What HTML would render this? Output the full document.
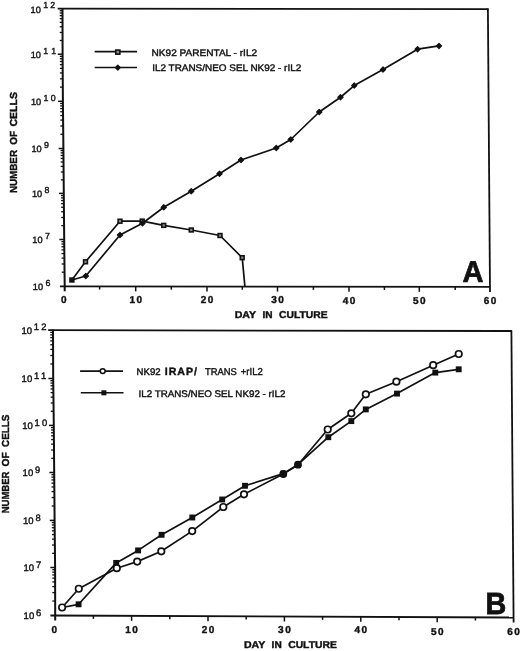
<!DOCTYPE html>
<html><head><meta charset="utf-8"><style>
html,body{margin:0;padding:0;background:#fff;}
svg{display:block;will-change:transform;text-rendering:geometricPrecision;}
text{font-family:"Liberation Sans", sans-serif;fill:#111;stroke:#111;stroke-width:0.4px;}
</style></head><body>
<svg width="520" height="651" viewBox="0 0 520 651">
<rect width="520" height="651" fill="#fff"/>
<line x1="57.70" y1="8.60" x2="488.40" y2="9.10" stroke="#111" stroke-width="1.8"/>
<polyline points="62.50,8.00 62.60,54.20 62.90,101.30 63.40,148.50 63.80,193.40 64.20,239.50 64.70,286.30 64.70,291.30" fill="none" stroke="#111" stroke-width="2.0" stroke-linejoin="round"/>
<line x1="487.90" y1="8.50" x2="490.00" y2="291.90" stroke="#111" stroke-width="1.8"/>
<line x1="59.90" y1="286.30" x2="490.00" y2="286.90" stroke="#111" stroke-width="1.8"/>
<line x1="61.75" y1="272.21" x2="64.55" y2="272.21" stroke="#111" stroke-width="1.3"/>
<line x1="61.66" y1="263.97" x2="64.46" y2="263.97" stroke="#111" stroke-width="1.3"/>
<line x1="61.60" y1="258.12" x2="64.40" y2="258.12" stroke="#111" stroke-width="1.3"/>
<line x1="61.55" y1="253.59" x2="64.35" y2="253.59" stroke="#111" stroke-width="1.3"/>
<line x1="61.51" y1="249.88" x2="64.31" y2="249.88" stroke="#111" stroke-width="1.3"/>
<line x1="61.48" y1="246.75" x2="64.28" y2="246.75" stroke="#111" stroke-width="1.3"/>
<line x1="61.45" y1="244.04" x2="64.25" y2="244.04" stroke="#111" stroke-width="1.3"/>
<line x1="61.42" y1="241.64" x2="64.22" y2="241.64" stroke="#111" stroke-width="1.3"/>
<line x1="61.28" y1="225.62" x2="64.08" y2="225.62" stroke="#111" stroke-width="1.3"/>
<line x1="61.21" y1="217.50" x2="64.01" y2="217.50" stroke="#111" stroke-width="1.3"/>
<line x1="61.16" y1="211.75" x2="63.96" y2="211.75" stroke="#111" stroke-width="1.3"/>
<line x1="61.12" y1="207.28" x2="63.92" y2="207.28" stroke="#111" stroke-width="1.3"/>
<line x1="61.09" y1="203.63" x2="63.89" y2="203.63" stroke="#111" stroke-width="1.3"/>
<line x1="61.06" y1="200.54" x2="63.86" y2="200.54" stroke="#111" stroke-width="1.3"/>
<line x1="61.04" y1="197.87" x2="63.84" y2="197.87" stroke="#111" stroke-width="1.3"/>
<line x1="61.02" y1="195.51" x2="63.82" y2="195.51" stroke="#111" stroke-width="1.3"/>
<line x1="59.40" y1="239.50" x2="64.20" y2="239.50" stroke="#111" stroke-width="1.5"/>
<line x1="60.88" y1="179.88" x2="63.68" y2="179.88" stroke="#111" stroke-width="1.3"/>
<line x1="60.81" y1="171.98" x2="63.61" y2="171.98" stroke="#111" stroke-width="1.3"/>
<line x1="60.76" y1="166.37" x2="63.56" y2="166.37" stroke="#111" stroke-width="1.3"/>
<line x1="60.72" y1="162.02" x2="63.52" y2="162.02" stroke="#111" stroke-width="1.3"/>
<line x1="60.69" y1="158.46" x2="63.49" y2="158.46" stroke="#111" stroke-width="1.3"/>
<line x1="60.66" y1="155.46" x2="63.46" y2="155.46" stroke="#111" stroke-width="1.3"/>
<line x1="60.64" y1="152.85" x2="63.44" y2="152.85" stroke="#111" stroke-width="1.3"/>
<line x1="60.62" y1="150.55" x2="63.42" y2="150.55" stroke="#111" stroke-width="1.3"/>
<line x1="59.00" y1="193.40" x2="63.80" y2="193.40" stroke="#111" stroke-width="1.5"/>
<line x1="60.45" y1="134.29" x2="63.25" y2="134.29" stroke="#111" stroke-width="1.3"/>
<line x1="60.36" y1="125.98" x2="63.16" y2="125.98" stroke="#111" stroke-width="1.3"/>
<line x1="60.30" y1="120.08" x2="63.10" y2="120.08" stroke="#111" stroke-width="1.3"/>
<line x1="60.25" y1="115.51" x2="63.05" y2="115.51" stroke="#111" stroke-width="1.3"/>
<line x1="60.21" y1="111.77" x2="63.01" y2="111.77" stroke="#111" stroke-width="1.3"/>
<line x1="60.18" y1="108.61" x2="62.98" y2="108.61" stroke="#111" stroke-width="1.3"/>
<line x1="60.15" y1="105.87" x2="62.95" y2="105.87" stroke="#111" stroke-width="1.3"/>
<line x1="60.12" y1="103.46" x2="62.92" y2="103.46" stroke="#111" stroke-width="1.3"/>
<line x1="58.60" y1="148.50" x2="63.40" y2="148.50" stroke="#111" stroke-width="1.5"/>
<line x1="60.01" y1="87.12" x2="62.81" y2="87.12" stroke="#111" stroke-width="1.3"/>
<line x1="59.96" y1="78.83" x2="62.76" y2="78.83" stroke="#111" stroke-width="1.3"/>
<line x1="59.92" y1="72.94" x2="62.72" y2="72.94" stroke="#111" stroke-width="1.3"/>
<line x1="59.89" y1="68.38" x2="62.69" y2="68.38" stroke="#111" stroke-width="1.3"/>
<line x1="59.87" y1="64.65" x2="62.67" y2="64.65" stroke="#111" stroke-width="1.3"/>
<line x1="59.85" y1="61.50" x2="62.65" y2="61.50" stroke="#111" stroke-width="1.3"/>
<line x1="59.83" y1="58.76" x2="62.63" y2="58.76" stroke="#111" stroke-width="1.3"/>
<line x1="59.81" y1="56.36" x2="62.61" y2="56.36" stroke="#111" stroke-width="1.3"/>
<line x1="58.10" y1="101.30" x2="62.90" y2="101.30" stroke="#111" stroke-width="1.5"/>
<line x1="59.77" y1="40.47" x2="62.57" y2="40.47" stroke="#111" stroke-width="1.3"/>
<line x1="59.75" y1="32.44" x2="62.55" y2="32.44" stroke="#111" stroke-width="1.3"/>
<line x1="59.74" y1="26.75" x2="62.54" y2="26.75" stroke="#111" stroke-width="1.3"/>
<line x1="59.73" y1="22.33" x2="62.53" y2="22.33" stroke="#111" stroke-width="1.3"/>
<line x1="59.72" y1="18.72" x2="62.52" y2="18.72" stroke="#111" stroke-width="1.3"/>
<line x1="59.72" y1="15.66" x2="62.52" y2="15.66" stroke="#111" stroke-width="1.3"/>
<line x1="59.71" y1="13.02" x2="62.51" y2="13.02" stroke="#111" stroke-width="1.3"/>
<line x1="59.70" y1="10.69" x2="62.50" y2="10.69" stroke="#111" stroke-width="1.3"/>
<line x1="57.80" y1="54.20" x2="62.60" y2="54.20" stroke="#111" stroke-width="1.5"/>
<line x1="99.60" y1="286.35" x2="99.60" y2="289.55" stroke="#111" stroke-width="1.5"/>
<line x1="135.70" y1="286.40" x2="135.70" y2="291.40" stroke="#111" stroke-width="1.5"/>
<line x1="171.30" y1="286.45" x2="171.30" y2="289.65" stroke="#111" stroke-width="1.5"/>
<line x1="207.00" y1="286.50" x2="207.00" y2="291.50" stroke="#111" stroke-width="1.5"/>
<line x1="242.30" y1="286.55" x2="242.30" y2="289.75" stroke="#111" stroke-width="1.5"/>
<line x1="277.50" y1="286.60" x2="277.50" y2="291.60" stroke="#111" stroke-width="1.5"/>
<line x1="313.40" y1="286.65" x2="313.40" y2="289.85" stroke="#111" stroke-width="1.5"/>
<line x1="349.00" y1="286.70" x2="349.00" y2="291.70" stroke="#111" stroke-width="1.5"/>
<line x1="384.40" y1="286.75" x2="384.40" y2="289.95" stroke="#111" stroke-width="1.5"/>
<line x1="419.30" y1="286.80" x2="419.30" y2="291.80" stroke="#111" stroke-width="1.5"/>
<line x1="455.20" y1="286.85" x2="455.20" y2="290.05" stroke="#111" stroke-width="1.5"/>
<text x="32.80" y="290.20" font-size="9.2" font-weight="400" text-anchor="start">10</text>
<text x="45.40" y="285.90" font-size="8.8" font-weight="400" text-anchor="start" letter-spacing="2.2">6</text>
<text x="32.30" y="243.40" font-size="9.2" font-weight="400" text-anchor="start">10</text>
<text x="44.90" y="239.10" font-size="8.8" font-weight="400" text-anchor="start" letter-spacing="2.2">7</text>
<text x="31.90" y="197.30" font-size="9.2" font-weight="400" text-anchor="start">10</text>
<text x="44.50" y="193.00" font-size="8.8" font-weight="400" text-anchor="start" letter-spacing="2.2">8</text>
<text x="31.50" y="152.40" font-size="9.2" font-weight="400" text-anchor="start">10</text>
<text x="44.10" y="148.10" font-size="8.8" font-weight="400" text-anchor="start" letter-spacing="2.2">9</text>
<text x="31.00" y="105.20" font-size="9.2" font-weight="400" text-anchor="start">10</text>
<text x="43.60" y="100.90" font-size="8.8" font-weight="400" text-anchor="start" letter-spacing="2.2">10</text>
<text x="30.70" y="58.10" font-size="9.2" font-weight="400" text-anchor="start">10</text>
<text x="43.30" y="53.80" font-size="8.8" font-weight="400" text-anchor="start" letter-spacing="3.6">11</text>
<text x="30.60" y="12.50" font-size="9.2" font-weight="400" text-anchor="start">10</text>
<text x="43.20" y="8.20" font-size="8.8" font-weight="400" text-anchor="start" letter-spacing="2.2">12</text>
<text x="64.50" y="302.90" font-size="10" font-weight="700" text-anchor="middle" letter-spacing="1.5">0</text>
<text x="136.45" y="303.10" font-size="10" font-weight="700" text-anchor="middle" letter-spacing="1.5">10</text>
<text x="207.75" y="302.90" font-size="10" font-weight="700" text-anchor="middle" letter-spacing="1.5">20</text>
<text x="278.25" y="303.10" font-size="10" font-weight="700" text-anchor="middle" letter-spacing="1.5">30</text>
<text x="349.75" y="303.50" font-size="10" font-weight="700" text-anchor="middle" letter-spacing="1.5">40</text>
<text x="420.05" y="304.00" font-size="10" font-weight="700" text-anchor="middle" letter-spacing="1.5">50</text>
<text x="490.75" y="304.10" font-size="10" font-weight="700" text-anchor="middle" letter-spacing="1.5">60</text>
<text x="234.70" y="317.80" font-size="10" font-weight="700" text-anchor="start" textLength="21.400000000000002" lengthAdjust="spacingAndGlyphs">DAY</text>
<text x="262.40" y="317.80" font-size="10" font-weight="700" text-anchor="start" textLength="10.1" lengthAdjust="spacingAndGlyphs">IN</text>
<text x="279.00" y="317.80" font-size="10" font-weight="700" text-anchor="start" textLength="48.6" lengthAdjust="spacingAndGlyphs">CULTURE</text>
<text transform="translate(17.10,193.10) rotate(-90)" font-size="10.2" font-weight="700" textLength="43.10" lengthAdjust="spacingAndGlyphs">NUMBER</text>
<text transform="translate(17.10,144.70) rotate(-90)" font-size="10.2" font-weight="700" textLength="13.80" lengthAdjust="spacingAndGlyphs">OF</text>
<text transform="translate(17.10,126.60) rotate(-90)" font-size="10.2" font-weight="700" textLength="34.60" lengthAdjust="spacingAndGlyphs">CELLS</text>
<text x="462.50" y="282.00" font-size="30" font-weight="700" text-anchor="start" textLength="21.0" lengthAdjust="spacingAndGlyphs" style="stroke-width:0.7px">A</text>
<line x1="94.70" y1="51.60" x2="137.00" y2="51.60" stroke="#111" stroke-width="1.6"/>
<line x1="94.70" y1="67.50" x2="137.00" y2="67.50" stroke="#111" stroke-width="1.6"/>
<text x="151.60" y="55.60" font-size="9.5" font-weight="400" text-anchor="start" textLength="105.5" lengthAdjust="spacingAndGlyphs">NK92 PARENTAL - rIL2</text>
<text x="152.20" y="71.10" font-size="9.5" font-weight="400" text-anchor="start" textLength="149" lengthAdjust="spacingAndGlyphs">IL2 TRANS/NEO SEL NK92 - rIL2</text>
<polyline points="71.90,280.00 85.50,261.80 120.00,221.20 142.20,221.10 163.75,225.40 191.25,230.00 220.00,235.50 242.20,257.70 244.90,286.40" fill="none" stroke="#111" stroke-width="1.7" stroke-linejoin="round"/>
<polyline points="71.90,280.00 85.80,276.00 120.00,235.00 142.50,223.30 163.75,207.30 191.25,191.25 219.50,173.75 241.00,160.00 276.25,148.00 290.75,139.50 319.25,112.00 340.50,97.25 354.25,85.60 383.00,69.60 417.60,49.20 439.00,45.90" fill="none" stroke="#111" stroke-width="1.7" stroke-linejoin="round"/>
<rect x="83.60" y="259.90" width="3.80" height="3.80" fill="#8a8a8a" stroke="#111" stroke-width="1.6"/>
<rect x="118.10" y="219.30" width="3.80" height="3.80" fill="#8a8a8a" stroke="#111" stroke-width="1.6"/>
<rect x="140.30" y="219.20" width="3.80" height="3.80" fill="#8a8a8a" stroke="#111" stroke-width="1.6"/>
<rect x="161.85" y="223.50" width="3.80" height="3.80" fill="#8a8a8a" stroke="#111" stroke-width="1.6"/>
<rect x="189.35" y="228.10" width="3.80" height="3.80" fill="#8a8a8a" stroke="#111" stroke-width="1.6"/>
<rect x="218.10" y="233.60" width="3.80" height="3.80" fill="#8a8a8a" stroke="#111" stroke-width="1.6"/>
<rect x="240.30" y="255.80" width="3.80" height="3.80" fill="#8a8a8a" stroke="#111" stroke-width="1.6"/>
<polygon points="85.80,273.40 88.40,276.00 85.80,278.60 83.20,276.00" fill="#111" stroke="#111" stroke-width="1.2" stroke-linejoin="round"/>
<polygon points="120.00,232.40 122.60,235.00 120.00,237.60 117.40,235.00" fill="#111" stroke="#111" stroke-width="1.2" stroke-linejoin="round"/>
<polygon points="142.50,220.70 145.10,223.30 142.50,225.90 139.90,223.30" fill="#111" stroke="#111" stroke-width="1.2" stroke-linejoin="round"/>
<polygon points="163.75,204.70 166.35,207.30 163.75,209.90 161.15,207.30" fill="#111" stroke="#111" stroke-width="1.2" stroke-linejoin="round"/>
<polygon points="191.25,188.65 193.85,191.25 191.25,193.85 188.65,191.25" fill="#111" stroke="#111" stroke-width="1.2" stroke-linejoin="round"/>
<polygon points="219.50,171.15 222.10,173.75 219.50,176.35 216.90,173.75" fill="#111" stroke="#111" stroke-width="1.2" stroke-linejoin="round"/>
<polygon points="241.00,157.40 243.60,160.00 241.00,162.60 238.40,160.00" fill="#111" stroke="#111" stroke-width="1.2" stroke-linejoin="round"/>
<polygon points="276.25,145.40 278.85,148.00 276.25,150.60 273.65,148.00" fill="#111" stroke="#111" stroke-width="1.2" stroke-linejoin="round"/>
<polygon points="290.75,136.90 293.35,139.50 290.75,142.10 288.15,139.50" fill="#111" stroke="#111" stroke-width="1.2" stroke-linejoin="round"/>
<polygon points="319.25,109.40 321.85,112.00 319.25,114.60 316.65,112.00" fill="#111" stroke="#111" stroke-width="1.2" stroke-linejoin="round"/>
<polygon points="340.50,94.65 343.10,97.25 340.50,99.85 337.90,97.25" fill="#111" stroke="#111" stroke-width="1.2" stroke-linejoin="round"/>
<polygon points="354.25,83.00 356.85,85.60 354.25,88.20 351.65,85.60" fill="#111" stroke="#111" stroke-width="1.2" stroke-linejoin="round"/>
<polygon points="383.00,67.00 385.60,69.60 383.00,72.20 380.40,69.60" fill="#111" stroke="#111" stroke-width="1.2" stroke-linejoin="round"/>
<polygon points="417.60,46.60 420.20,49.20 417.60,51.80 415.00,49.20" fill="#111" stroke="#111" stroke-width="1.2" stroke-linejoin="round"/>
<polygon points="439.00,43.30 441.60,45.90 439.00,48.50 436.40,45.90" fill="#111" stroke="#111" stroke-width="1.2" stroke-linejoin="round"/>
<rect x="69.20" y="277.30" width="5.40" height="5.40" fill="#111"/>
<rect x="115.75" y="50.05" width="4.10" height="4.10" fill="#8a8a8a" stroke="#111" stroke-width="1.6"/>
<polygon points="117.80,65.10 120.30,67.60 117.80,70.10 115.30,67.60" fill="#111" stroke="#111" stroke-width="1.2" stroke-linejoin="round"/>
<line x1="48.20" y1="330.20" x2="511.90" y2="331.00" stroke="#111" stroke-width="1.8"/>
<polyline points="53.00,329.60 53.20,378.50 53.80,425.40 54.20,472.50 54.60,520.40 55.10,567.50 55.20,615.50 55.20,620.50" fill="none" stroke="#111" stroke-width="2.0" stroke-linejoin="round"/>
<line x1="511.40" y1="330.40" x2="513.60" y2="622.50" stroke="#111" stroke-width="1.8"/>
<line x1="50.40" y1="615.50" x2="513.60" y2="617.50" stroke="#111" stroke-width="1.8"/>
<line x1="52.37" y1="601.05" x2="55.17" y2="601.05" stroke="#111" stroke-width="1.3"/>
<line x1="52.35" y1="592.60" x2="55.15" y2="592.60" stroke="#111" stroke-width="1.3"/>
<line x1="52.34" y1="586.60" x2="55.14" y2="586.60" stroke="#111" stroke-width="1.3"/>
<line x1="52.33" y1="581.95" x2="55.13" y2="581.95" stroke="#111" stroke-width="1.3"/>
<line x1="52.32" y1="578.15" x2="55.12" y2="578.15" stroke="#111" stroke-width="1.3"/>
<line x1="52.32" y1="574.94" x2="55.12" y2="574.94" stroke="#111" stroke-width="1.3"/>
<line x1="52.31" y1="572.15" x2="55.11" y2="572.15" stroke="#111" stroke-width="1.3"/>
<line x1="52.30" y1="569.70" x2="55.10" y2="569.70" stroke="#111" stroke-width="1.3"/>
<line x1="52.15" y1="553.32" x2="54.95" y2="553.32" stroke="#111" stroke-width="1.3"/>
<line x1="52.06" y1="545.03" x2="54.86" y2="545.03" stroke="#111" stroke-width="1.3"/>
<line x1="52.00" y1="539.14" x2="54.80" y2="539.14" stroke="#111" stroke-width="1.3"/>
<line x1="51.95" y1="534.58" x2="54.75" y2="534.58" stroke="#111" stroke-width="1.3"/>
<line x1="51.91" y1="530.85" x2="54.71" y2="530.85" stroke="#111" stroke-width="1.3"/>
<line x1="51.88" y1="527.70" x2="54.68" y2="527.70" stroke="#111" stroke-width="1.3"/>
<line x1="51.85" y1="524.96" x2="54.65" y2="524.96" stroke="#111" stroke-width="1.3"/>
<line x1="51.82" y1="522.56" x2="54.62" y2="522.56" stroke="#111" stroke-width="1.3"/>
<line x1="50.30" y1="567.50" x2="55.10" y2="567.50" stroke="#111" stroke-width="1.5"/>
<line x1="51.68" y1="505.98" x2="54.48" y2="505.98" stroke="#111" stroke-width="1.3"/>
<line x1="51.61" y1="497.55" x2="54.41" y2="497.55" stroke="#111" stroke-width="1.3"/>
<line x1="51.56" y1="491.56" x2="54.36" y2="491.56" stroke="#111" stroke-width="1.3"/>
<line x1="51.52" y1="486.92" x2="54.32" y2="486.92" stroke="#111" stroke-width="1.3"/>
<line x1="51.49" y1="483.13" x2="54.29" y2="483.13" stroke="#111" stroke-width="1.3"/>
<line x1="51.46" y1="479.92" x2="54.26" y2="479.92" stroke="#111" stroke-width="1.3"/>
<line x1="51.44" y1="477.14" x2="54.24" y2="477.14" stroke="#111" stroke-width="1.3"/>
<line x1="51.42" y1="474.69" x2="54.22" y2="474.69" stroke="#111" stroke-width="1.3"/>
<line x1="49.80" y1="520.40" x2="54.60" y2="520.40" stroke="#111" stroke-width="1.5"/>
<line x1="51.28" y1="458.32" x2="54.08" y2="458.32" stroke="#111" stroke-width="1.3"/>
<line x1="51.21" y1="450.03" x2="54.01" y2="450.03" stroke="#111" stroke-width="1.3"/>
<line x1="51.16" y1="444.14" x2="53.96" y2="444.14" stroke="#111" stroke-width="1.3"/>
<line x1="51.12" y1="439.58" x2="53.92" y2="439.58" stroke="#111" stroke-width="1.3"/>
<line x1="51.09" y1="435.85" x2="53.89" y2="435.85" stroke="#111" stroke-width="1.3"/>
<line x1="51.06" y1="432.70" x2="53.86" y2="432.70" stroke="#111" stroke-width="1.3"/>
<line x1="51.04" y1="429.96" x2="53.84" y2="429.96" stroke="#111" stroke-width="1.3"/>
<line x1="51.02" y1="427.56" x2="53.82" y2="427.56" stroke="#111" stroke-width="1.3"/>
<line x1="49.40" y1="472.50" x2="54.20" y2="472.50" stroke="#111" stroke-width="1.5"/>
<line x1="50.82" y1="411.28" x2="53.62" y2="411.28" stroke="#111" stroke-width="1.3"/>
<line x1="50.71" y1="403.02" x2="53.51" y2="403.02" stroke="#111" stroke-width="1.3"/>
<line x1="50.64" y1="397.16" x2="53.44" y2="397.16" stroke="#111" stroke-width="1.3"/>
<line x1="50.58" y1="392.62" x2="53.38" y2="392.62" stroke="#111" stroke-width="1.3"/>
<line x1="50.53" y1="388.90" x2="53.33" y2="388.90" stroke="#111" stroke-width="1.3"/>
<line x1="50.49" y1="385.76" x2="53.29" y2="385.76" stroke="#111" stroke-width="1.3"/>
<line x1="50.46" y1="383.05" x2="53.26" y2="383.05" stroke="#111" stroke-width="1.3"/>
<line x1="50.43" y1="380.65" x2="53.23" y2="380.65" stroke="#111" stroke-width="1.3"/>
<line x1="49.00" y1="425.40" x2="53.80" y2="425.40" stroke="#111" stroke-width="1.5"/>
<line x1="50.34" y1="363.96" x2="53.14" y2="363.96" stroke="#111" stroke-width="1.3"/>
<line x1="50.30" y1="355.46" x2="53.10" y2="355.46" stroke="#111" stroke-width="1.3"/>
<line x1="50.28" y1="349.42" x2="53.08" y2="349.42" stroke="#111" stroke-width="1.3"/>
<line x1="50.26" y1="344.74" x2="53.06" y2="344.74" stroke="#111" stroke-width="1.3"/>
<line x1="50.24" y1="340.92" x2="53.04" y2="340.92" stroke="#111" stroke-width="1.3"/>
<line x1="50.23" y1="337.68" x2="53.03" y2="337.68" stroke="#111" stroke-width="1.3"/>
<line x1="50.22" y1="334.88" x2="53.02" y2="334.88" stroke="#111" stroke-width="1.3"/>
<line x1="50.21" y1="332.41" x2="53.01" y2="332.41" stroke="#111" stroke-width="1.3"/>
<line x1="48.40" y1="378.50" x2="53.20" y2="378.50" stroke="#111" stroke-width="1.5"/>
<line x1="93.40" y1="615.67" x2="93.40" y2="618.87" stroke="#111" stroke-width="1.5"/>
<line x1="131.60" y1="615.83" x2="131.60" y2="620.83" stroke="#111" stroke-width="1.5"/>
<line x1="169.80" y1="616.00" x2="169.80" y2="619.20" stroke="#111" stroke-width="1.5"/>
<line x1="208.00" y1="616.17" x2="208.00" y2="621.17" stroke="#111" stroke-width="1.5"/>
<line x1="246.20" y1="616.33" x2="246.20" y2="619.53" stroke="#111" stroke-width="1.5"/>
<line x1="284.40" y1="616.50" x2="284.40" y2="621.50" stroke="#111" stroke-width="1.5"/>
<line x1="322.60" y1="616.67" x2="322.60" y2="619.87" stroke="#111" stroke-width="1.5"/>
<line x1="360.80" y1="616.83" x2="360.80" y2="621.83" stroke="#111" stroke-width="1.5"/>
<line x1="399.00" y1="617.00" x2="399.00" y2="620.20" stroke="#111" stroke-width="1.5"/>
<line x1="437.20" y1="617.17" x2="437.20" y2="622.17" stroke="#111" stroke-width="1.5"/>
<line x1="475.40" y1="617.33" x2="475.40" y2="620.53" stroke="#111" stroke-width="1.5"/>
<text x="23.60" y="619.30" font-size="9.5" font-weight="400" text-anchor="start">10</text>
<text x="36.00" y="615.60" font-size="9.4" font-weight="400" text-anchor="start" letter-spacing="2.2">6</text>
<text x="23.50" y="571.30" font-size="9.5" font-weight="400" text-anchor="start">10</text>
<text x="35.90" y="567.60" font-size="9.4" font-weight="400" text-anchor="start" letter-spacing="2.2">7</text>
<text x="23.00" y="524.20" font-size="9.5" font-weight="400" text-anchor="start">10</text>
<text x="35.40" y="520.50" font-size="9.4" font-weight="400" text-anchor="start" letter-spacing="2.2">8</text>
<text x="22.60" y="476.30" font-size="9.5" font-weight="400" text-anchor="start">10</text>
<text x="35.00" y="472.60" font-size="9.4" font-weight="400" text-anchor="start" letter-spacing="2.2">9</text>
<text x="22.20" y="429.20" font-size="9.5" font-weight="400" text-anchor="start">10</text>
<text x="34.60" y="425.50" font-size="9.4" font-weight="400" text-anchor="start" letter-spacing="2.2">10</text>
<text x="21.60" y="382.30" font-size="9.5" font-weight="400" text-anchor="start">10</text>
<text x="34.00" y="378.60" font-size="9.4" font-weight="400" text-anchor="start" letter-spacing="2.6">11</text>
<text x="21.40" y="334.00" font-size="9.5" font-weight="400" text-anchor="start">10</text>
<text x="33.80" y="330.30" font-size="9.4" font-weight="400" text-anchor="start" letter-spacing="2.2">12</text>
<text x="55.00" y="632.80" font-size="10" font-weight="700" text-anchor="middle" letter-spacing="1.5">0</text>
<text x="132.35" y="632.60" font-size="10" font-weight="700" text-anchor="middle" letter-spacing="1.5">10</text>
<text x="208.75" y="632.60" font-size="10" font-weight="700" text-anchor="middle" letter-spacing="1.5">20</text>
<text x="285.15" y="633.00" font-size="10" font-weight="700" text-anchor="middle" letter-spacing="1.5">30</text>
<text x="361.55" y="633.30" font-size="10" font-weight="700" text-anchor="middle" letter-spacing="1.5">40</text>
<text x="437.95" y="634.60" font-size="10" font-weight="700" text-anchor="middle" letter-spacing="1.5">50</text>
<text x="514.35" y="634.60" font-size="10" font-weight="700" text-anchor="middle" letter-spacing="1.5">60</text>
<text x="243.90" y="647.80" font-size="10" font-weight="700" text-anchor="start" textLength="21.400000000000002" lengthAdjust="spacingAndGlyphs">DAY</text>
<text x="271.60" y="647.80" font-size="10" font-weight="700" text-anchor="start" textLength="10.1" lengthAdjust="spacingAndGlyphs">IN</text>
<text x="288.20" y="647.80" font-size="10" font-weight="700" text-anchor="start" textLength="48.6" lengthAdjust="spacingAndGlyphs">CULTURE</text>
<text transform="translate(9.30,513.30) rotate(-90)" font-size="10.2" font-weight="700" textLength="41.70" lengthAdjust="spacingAndGlyphs">NUMBER</text>
<text transform="translate(9.30,466.40) rotate(-90)" font-size="10.2" font-weight="700" textLength="14.10" lengthAdjust="spacingAndGlyphs">OF</text>
<text transform="translate(9.30,447.00) rotate(-90)" font-size="10.2" font-weight="700" textLength="32.40" lengthAdjust="spacingAndGlyphs">CELLS</text>
<text x="485.50" y="614.00" font-size="30.5" font-weight="700" text-anchor="start" textLength="20.8" lengthAdjust="spacingAndGlyphs" style="stroke-width:0.8px">B</text>
<line x1="80.10" y1="371.10" x2="123.00" y2="371.10" stroke="#111" stroke-width="1.6"/>
<line x1="80.80" y1="392.80" x2="123.50" y2="392.80" stroke="#111" stroke-width="1.6"/>
<circle cx="102.70" cy="371.10" r="2.45" fill="#fff" stroke="#111" stroke-width="1.5"/>
<rect x="101.40" y="390.30" width="5.00" height="5.00" fill="#111"/>
<text x="136.60" y="374.60" font-size="9.7" font-weight="400" text-anchor="start" textLength="24.0" lengthAdjust="spacingAndGlyphs">NK92</text>
<text x="164.70" y="375.40" font-size="10.6" font-weight="700" text-anchor="start" textLength="32.2" lengthAdjust="spacing">IRAP/</text>
<text x="205.10" y="375.40" font-size="9.8" font-weight="400" text-anchor="start" textLength="31.7" lengthAdjust="spacingAndGlyphs">TRANS</text>
<text x="240.80" y="374.60" font-size="10.1" font-weight="400" text-anchor="start" textLength="22.0" lengthAdjust="spacingAndGlyphs">+rIL2</text>
<text x="138.60" y="396.50" font-size="9.6" font-weight="400" text-anchor="start" textLength="146.8" lengthAdjust="spacingAndGlyphs">IL2 TRANS/NEO SEL NK92 - rIL2</text>
<polyline points="62.10,607.50 78.60,604.30 116.20,562.90 138.10,550.40 161.60,534.80 192.30,517.50 222.20,499.50 245.00,485.80 283.30,473.60 297.80,464.70 328.30,437.20 351.30,421.10 365.80,409.40 397.00,393.60 435.30,372.60 458.70,369.30" fill="none" stroke="#111" stroke-width="1.7" stroke-linejoin="round"/>
<polyline points="62.10,607.50 78.75,588.75 116.80,568.20 137.20,561.60 161.30,551.30 192.20,531.10 223.30,507.00 244.00,494.30 283.30,474.00 298.00,464.70 327.70,429.50 351.30,413.30 365.80,394.30 396.40,381.70 433.20,365.20 458.70,354.00" fill="none" stroke="#111" stroke-width="1.7" stroke-linejoin="round"/>
<rect x="75.65" y="601.35" width="5.90" height="5.90" fill="#111"/>
<rect x="113.25" y="559.95" width="5.90" height="5.90" fill="#111"/>
<rect x="135.15" y="547.45" width="5.90" height="5.90" fill="#111"/>
<rect x="158.65" y="531.85" width="5.90" height="5.90" fill="#111"/>
<rect x="189.35" y="514.55" width="5.90" height="5.90" fill="#111"/>
<rect x="219.25" y="496.55" width="5.90" height="5.90" fill="#111"/>
<rect x="242.05" y="482.85" width="5.90" height="5.90" fill="#111"/>
<rect x="280.35" y="470.65" width="5.90" height="5.90" fill="#111"/>
<rect x="294.85" y="461.75" width="5.90" height="5.90" fill="#111"/>
<rect x="325.35" y="434.25" width="5.90" height="5.90" fill="#111"/>
<rect x="348.35" y="418.15" width="5.90" height="5.90" fill="#111"/>
<rect x="362.85" y="406.45" width="5.90" height="5.90" fill="#111"/>
<rect x="394.05" y="390.65" width="5.90" height="5.90" fill="#111"/>
<rect x="432.35" y="369.65" width="5.90" height="5.90" fill="#111"/>
<rect x="455.75" y="366.35" width="5.90" height="5.90" fill="#111"/>
<circle cx="62.10" cy="607.50" r="3.25" fill="#fff" stroke="#111" stroke-width="1.7"/>
<circle cx="78.75" cy="588.75" r="3.25" fill="#fff" stroke="#111" stroke-width="1.7"/>
<circle cx="116.80" cy="568.20" r="3.25" fill="#fff" stroke="#111" stroke-width="1.7"/>
<circle cx="137.20" cy="561.60" r="3.25" fill="#fff" stroke="#111" stroke-width="1.7"/>
<circle cx="161.30" cy="551.30" r="3.25" fill="#fff" stroke="#111" stroke-width="1.7"/>
<circle cx="192.20" cy="531.10" r="3.25" fill="#fff" stroke="#111" stroke-width="1.7"/>
<circle cx="223.30" cy="507.00" r="3.25" fill="#fff" stroke="#111" stroke-width="1.7"/>
<circle cx="244.00" cy="494.30" r="3.25" fill="#fff" stroke="#111" stroke-width="1.7"/>
<circle cx="283.30" cy="474.00" r="3.15" fill="#111" stroke="#111" stroke-width="1.5"/>
<circle cx="298.00" cy="464.70" r="3.15" fill="#111" stroke="#111" stroke-width="1.5"/>
<circle cx="327.70" cy="429.50" r="3.25" fill="#fff" stroke="#111" stroke-width="1.7"/>
<circle cx="351.30" cy="413.30" r="3.25" fill="#fff" stroke="#111" stroke-width="1.7"/>
<circle cx="365.80" cy="394.30" r="3.25" fill="#fff" stroke="#111" stroke-width="1.7"/>
<circle cx="396.40" cy="381.70" r="3.25" fill="#fff" stroke="#111" stroke-width="1.7"/>
<circle cx="433.20" cy="365.20" r="3.25" fill="#fff" stroke="#111" stroke-width="1.7"/>
<circle cx="458.70" cy="354.00" r="3.25" fill="#fff" stroke="#111" stroke-width="1.7"/>
</svg>
</body></html>
